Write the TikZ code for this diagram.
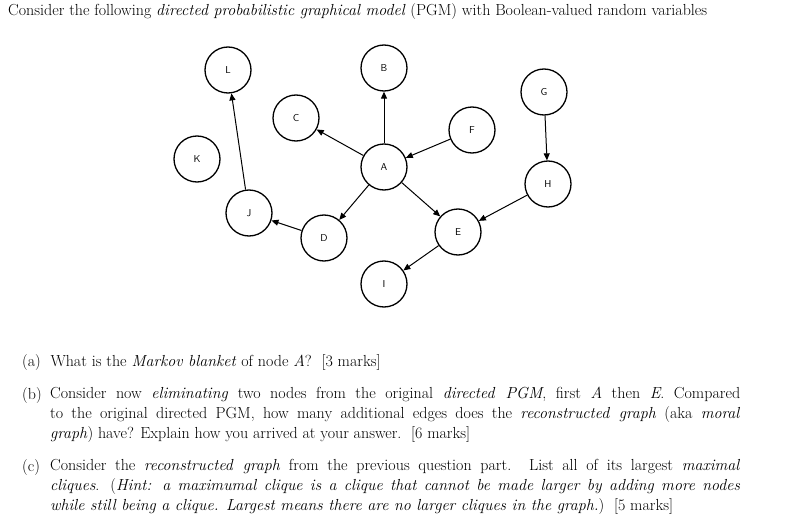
\documentclass[tikz,border=0pt]{standalone}
\usetikzlibrary{arrows.meta}
\begin{document}
\begin{tikzpicture}[x=1pt,y=-1pt,
  v/.style={circle,draw,line width=1.3pt,minimum size=46pt,inner sep=0pt,font=\sffamily\fontsize{10}{11}\selectfont},
  e/.style={-{Triangle[length=7pt,width=6pt]},line width=1pt},
  txt/.style={anchor=north west,inner sep=0pt,align=justify,font=\fontsize{16}{20}\selectfont}]
\useasboundingbox (0,0) rectangle (788,527);
\node[v] (L) at (228,70) {L};
\node[v] (B) at (384,68) {B};
\node[v] (G) at (544,92) {G};
\node[v] (C) at (296,118) {C};
\node[v] (F) at (472,130) {F};
\node[v] (K) at (197,159) {K};
\node[v] (A) at (384,167) {A};
\node[v] (H) at (548,184) {H};
\node[v] (J) at (249,213) {J};
\node[v] (D) at (324,238) {D};
\node[v] (E) at (458,232) {E};
\node[v] (I) at (384,284) {I};
\draw[e] (J) -- (L);
\draw[e] (A) -- (C);
\draw[e] (A) -- (B);
\draw[e] (F) -- (A);
\draw[e] (A) -- (D);
\draw[e] (D) -- (J);
\draw[e] (A) -- (E);
\draw[e] (H) -- (E);
\draw[e] (G) -- (H);
\draw[e] (E) -- (I);
\node[txt,align=left] (t0) at (8,3) {Consider the following \textit{directed probabilistic graphical model} (PGM) with Boolean-valued random variables};
\node[txt,align=left] (qa) at (22,354) {(a)\ \ What is the \textit{Markov blanket} of node \textit{A}?\ \ [3 marks]};
\node[txt,align=left] (lb) at (22,387) {(b)};
\node[txt,text width=690pt] (qb) at (50,387) {Consider now \textit{eliminating} two nodes from the original \textit{directed PGM}, first \textit{A} then \textit{E}. Compared\linebreak
to the original directed PGM, how many additional edges does the \textit{reconstructed graph} (aka \textit{moral}\linebreak
\textit{graph}) have? Explain how you arrived at your answer.\ \ [6 marks]};
\node[txt,align=left] (lc) at (22,459) {(c)};
\node[txt,text width=690pt] (qc) at (50,459) {Consider the \textit{reconstructed graph} from the previous question part. List all of its largest \textit{maximal}\linebreak
\textit{cliques}. (\textit{Hint: a maximumal clique is a clique that cannot be made larger by adding more nodes}\linebreak
\textit{while still being a clique. Largest means there are no larger cliques in the graph.})\ \ [5 marks]};
\end{tikzpicture}
\end{document}
